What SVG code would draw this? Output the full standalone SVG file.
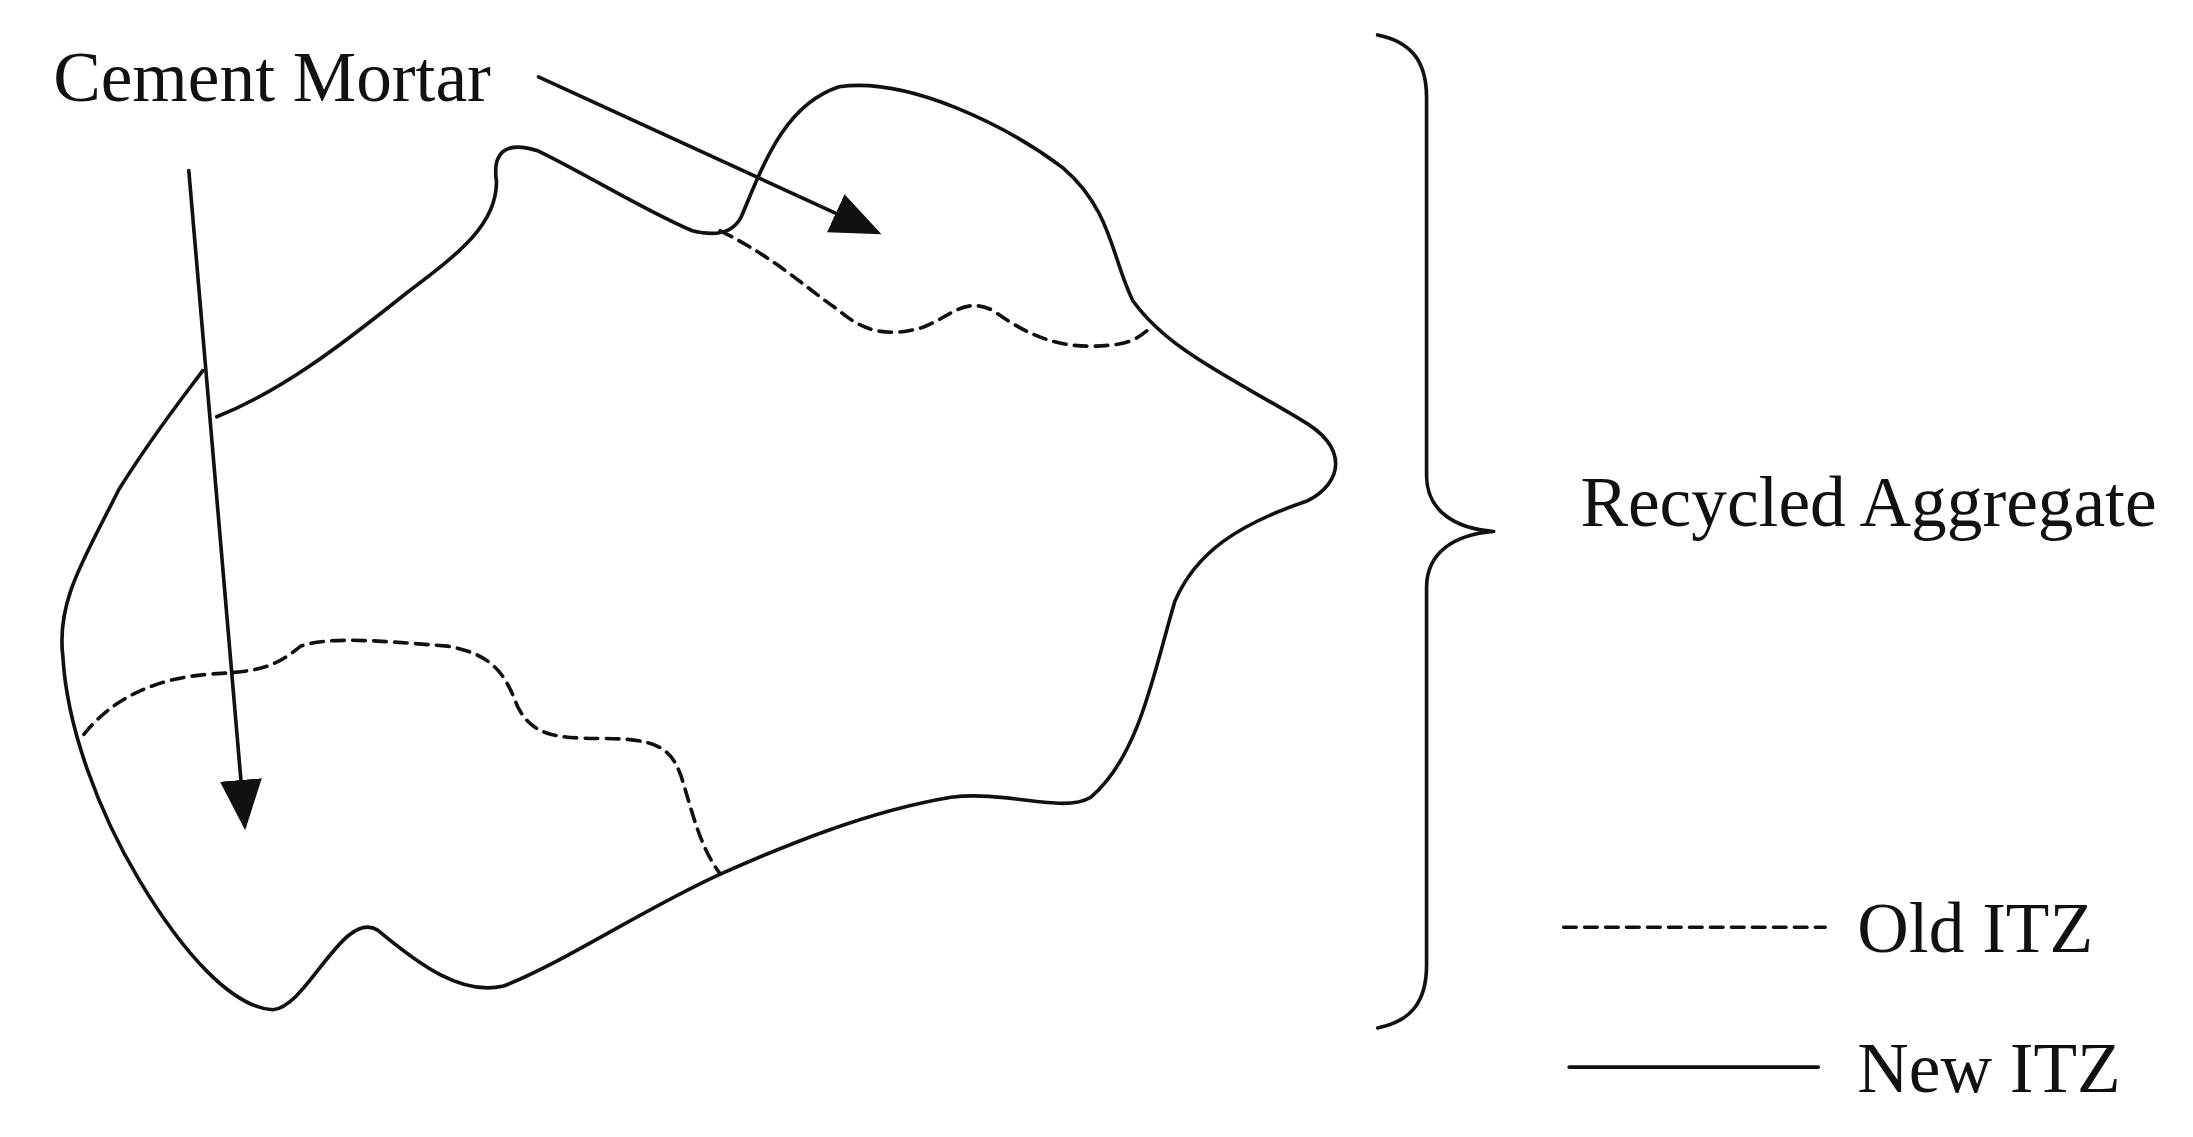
<svg xmlns="http://www.w3.org/2000/svg" width="2193" height="1137" viewBox="0 0 2193 1137">
<style>
.l{fill:none;stroke:#111;stroke-width:2.6;stroke-linejoin:round;stroke-linecap:round}
.d{stroke-dasharray:9 6}
text{font-family:"Liberation Serif",serif;font-size:51px;fill:#111}
</style>
<defs><marker id="a" viewBox="0 0 10 10" refX="9" refY="5" markerWidth="36" markerHeight="30" markerUnits="userSpaceOnUse" orient="auto" preserveAspectRatio="none"><path d="M0,0L10,5L0,10z" fill="#111"/></marker></defs>
<rect width="2193" height="1137" fill="#fff"/>
<g transform="scale(1.3986)">
<g id="aggregate">
<path class="l" d="M155,298 C200,280 240,250 290,210 C330,180 355,160 355,130 C352,110 360,100 385,108 C420,125 460,150 495,165 C515,170 525,165 530,155 C545,120 560,75 600,62 C650,55 720,90 760,120 C795,150 795,185 810,215 C835,250 880,270 930,300 C965,320 960,345 935,358 C885,375 855,395 840,430 C825,480 815,540 780,570 C760,582 720,565 680,570 C620,580 560,605 515,625 C460,650 400,690 360,705 C330,712 300,690 270,665 C245,650 220,720 195,722 C165,720 130,680 100,630 C70,580 48,520 45,470 C40,430 60,400 85,350 C110,310 130,285 145,265"/>
<path class="l d" d="M515,165 C555,185 575,205 600,222 C620,240 640,240 660,234 C680,226 690,212 710,222 C735,240 760,252 800,246 C812,244 818,238 822,235"/>
<path class="l d" d="M60,525 C80,500 110,485 150,482 C185,480 195,478 215,462 C235,455 270,458 320,462 C355,468 362,485 370,505 C380,525 395,528 430,528 C470,528 480,535 487,555 C495,580 500,605 515,625"/>
</g>
<g id="connectors">
<line class="l" x1="135" y1="122" x2="175" y2="590" marker-end="url(#a)"/>
<line class="l" x1="385" y1="55" x2="627" y2="166" marker-end="url(#a)"/>
<path class="l" d="M985,25 C1010,30 1020,45 1020,70 L1020,340 C1020,365 1040,378 1068,380 C1040,382 1020,395 1020,420 L1020,690 C1020,715 1010,730 985,735"/>
</g>
<g id="labels">
<text x="38" y="72">Cement Mortar</text>
<text x="1130" y="376">Recycled Aggregate</text>
</g>
<g id="legend">
<line class="l d" x1="1118" y1="663" x2="1305" y2="663"/>
<text x="1328" y="681">Old ITZ</text>
<line class="l" x1="1122" y1="763" x2="1300" y2="763"/>
<text x="1328" y="781">New ITZ</text>
</g>
</g>
</svg>
